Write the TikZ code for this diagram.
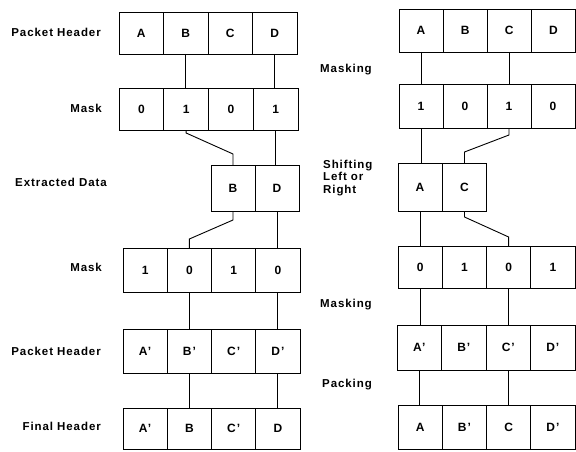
\documentclass[tikz,border=0pt]{standalone}
\usepackage{fontspec}
\setmainfont{Liberation Sans}[LetterSpace=8]
\usetikzlibrary{calc}
\begin{document}
\begin{tikzpicture}[x=1pt,y=-1pt,
  cell/.style={draw, line width=0.9pt, rectangle, inner sep=0pt, outer sep=0pt,
    font=\fontsize{12}{14}\selectfont\bfseries},
  lbl/.style={font=\fontsize{11.5}{13}\selectfont\bfseries, inner sep=0pt, align=left},
  wire/.style={line width=0.9pt}]
\useasboundingbox (0,0) rectangle (576,452);

% ---------------- left column ----------------
\foreach \t [count=\i] in {A,B,C,D}
  \node[cell, minimum width=44.5pt, minimum height=42pt] (lh\i) at ({119+44.5*(\i-0.5)},33) {\t};
\foreach \t [count=\i] in {0,1,0,1}
  \node[cell, minimum width=44.75pt, minimum height=42pt] (lm\i) at ({119+44.75*(\i-0.5)},109) {\t};
\node[cell, minimum width=44pt, minimum height=46pt] (lxb) at (233,188) {B};
\node[cell, minimum width=44pt, minimum height=46pt] (lxd) at (277,188) {D};
\foreach \t [count=\i] in {1,0,1,0}
  \node[cell, minimum width=44.25pt, minimum height=44pt] (ln\i) at ({123+44.25*(\i-0.5)},270) {\t};
\foreach \t [count=\i] in {A’,B’,C’,D’}
  \node[cell, minimum width=44.25pt, minimum height=44pt] (lp\i) at ({123+44.25*(\i-0.5)},351) {\t};
\foreach \t [count=\i] in {A’,B,C’,D}
  \node[cell, minimum width=44.25pt, minimum height=41pt] (lf\i) at ({123+44.25*(\i-0.5)},428.5) {\t};

\node[lbl, anchor=east] (tph) at (101,32) {Packet Header};
\node[lbl, anchor=east] (tm) at (102,108) {Mask};
\node[lbl, anchor=east] (tx) at (107,182) {Extracted Data};
\node[lbl, anchor=east] (tm2) at (102,267) {Mask};
\node[lbl, anchor=east] (tph2) at (101,351) {Packet Header};
\node[lbl, anchor=east] (tfh) at (101,426) {Final Header};

\draw[wire] (lh2.south) -- (lh2.south |- lm2.north);
\draw[wire] (lh4.south) -- (lh4.south |- lm4.north);
\draw[wire] (lm2.south) -- ++(0,3) -- ($(lxb.north)+(0,-11)$) -- (lxb.north);
\draw[wire] (lm4.south) -- (lm4.south |- lxd.north);
\draw[wire] (lxb.south) -- ++(0,9) -- ($(ln2.north)+(0,-9)$) -- (ln2.north);
\draw[wire] (lxd.south) -- (lxd.south |- ln4.north);
\draw[wire] (ln2.south) -- (ln2.south |- lp2.north);
\draw[wire] (ln4.south) -- (ln4.south |- lp4.north);
\draw[wire] (lp2.south) -- (lp2.south |- lf2.north);
\draw[wire] (lp4.south) -- (lp4.south |- lf4.north);

% ---------------- right column ----------------
\foreach \t [count=\i] in {A,B,C,D}
  \node[cell, minimum width=44.125pt, minimum height=43pt] (rh\i) at ({399+44.125*(\i-0.5)},30.5) {\t};
\foreach \t [count=\i] in {1,0,1,0}
  \node[cell, minimum width=44pt, minimum height=44pt] (rm\i) at ({399+44*(\i-0.5)},106) {\t};
\node[cell, minimum width=44pt, minimum height=48pt] (rxa) at (420,187) {A};
\node[cell, minimum width=44pt, minimum height=48pt] (rxc) at (464.5,187) {C};
\foreach \t [count=\i] in {0,1,0,1}
  \node[cell, minimum width=44.25pt, minimum height=42pt] (rn\i) at ({398+44.25*(\i-0.5)},267) {\t};
\foreach \t [count=\i] in {A’,B’,C’,D’}
  \node[cell, minimum width=44.5pt, minimum height=45pt] (rp\i) at ({397+44.5*(\i-0.5)},347.5) {\t};
\foreach \t [count=\i] in {A,B’,C,D’}
  \node[cell, minimum width=44.25pt, minimum height=44pt] (rf\i) at ({398+44.25*(\i-0.5)},427) {\t};

\node[lbl, anchor=west] (tmk) at (320,70) {Masking};
\node[lbl, anchor=west, align=left, text width=60pt] (tsh) at (323,178)
  {\baselineskip=11.5pt Shifting\\Left or\\Right};
\node[lbl, anchor=west] (tmk2) at (320,305) {Masking};
\node[lbl, anchor=west] (tpk) at (322,385) {Packing};

\draw[wire] (rh1.south) -- (rh1.south |- rm1.north);
\draw[wire] (rh3.south) -- (rh3.south |- rm3.north);
\draw[wire] (rm1.south) -- (rm1.south |- rxa.north);
\draw[wire] (rm3.south) -- ++(0,7) -- ($(rxc.north)+(0,-11)$) -- (rxc.north);
\draw[wire] (rxa.south) -- (rxa.south |- rn1.north);
\draw[wire] (rxc.south) -- ++(0,6) -- ($(rn3.north)+(0,-9)$) -- (rn3.north);
\draw[wire] (rn1.south) -- (rn1.south |- rp1.north);
\draw[wire] (rn3.south) -- (rn3.south |- rp3.north);
\draw[wire] (rp1.south) -- (rp1.south |- rf1.north);
\draw[wire] (rp3.south) -- (rp3.south |- rf3.north);
\end{tikzpicture}
\end{document}
